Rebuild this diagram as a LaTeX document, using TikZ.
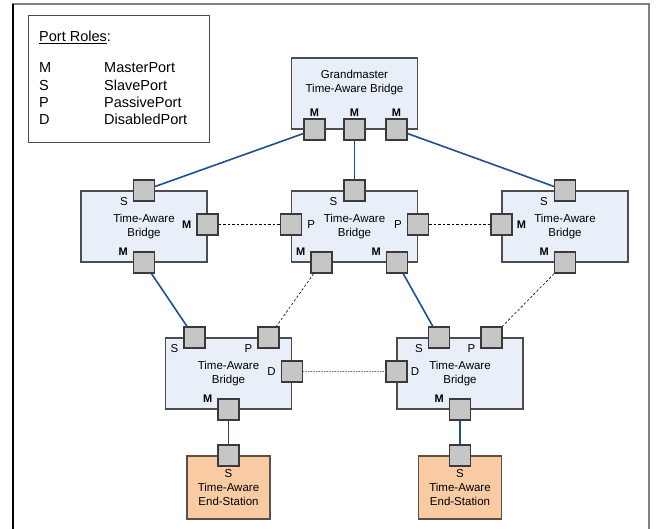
\documentclass[tikz,border=0pt]{standalone}
\usepackage{fontspec}
\setmainfont{Liberation Sans}
\usetikzlibrary{positioning}
\definecolor{BridgeFill}{HTML}{E9EFF8}
\definecolor{BoxGray}{HTML}{4D4D4D}
\definecolor{PortFill}{HTML}{C6C6C6}
\definecolor{PortLine}{HTML}{3A3A3A}
\definecolor{StationFill}{HTML}{F9CBA3}
\definecolor{StationLine}{HTML}{5E5048}
\definecolor{LinkBlue}{HTML}{1F4F8F}
\newcommand{\txtfont}{\fontsize{11.5}{14}\selectfont}
\newcommand{\legfont}{\fontsize{14.5}{17}\selectfont}
\newcommand{\mfont}{\fontsize{11}{13}\selectfont\bfseries}

\begin{document}
\begin{tikzpicture}[x=1pt,y=-1pt,
    bridge/.style={draw=BoxGray, fill=BridgeFill, line width=1.1pt, minimum width=126pt, minimum height=71pt, inner sep=0pt, align=center, font=\txtfont},
    station/.style={draw=StationLine, fill=StationFill, line width=1.1pt, minimum width=83pt, minimum height=63pt, inner sep=0pt, align=center, font=\txtfont},
    port/.style={draw=PortLine, fill=PortFill, line width=1.2pt, minimum size=21pt, inner sep=0pt},
    lbl/.style={font=\txtfont, inner sep=0pt, node distance=5pt},
    mlbl/.style={font=\mfont, inner sep=0pt, node distance=5pt},
    link/.style={draw=LinkBlue, line width=1.6pt},
    passive/.style={draw=black, line width=0.6pt, dash pattern=on 2.5pt off 2pt},
    disabled/.style={draw=gray, line width=0.8pt, dash pattern=on 0.8pt off 0.8pt}]
  \useasboundingbox (0,0) rectangle (661,529);

  % frame and legend
  \draw [gray, line width=1.2pt] (13,529) -- (13,4) -- (649,4) -- (649,529);
  \draw [black, line width=1.2pt] (13,529) -- (13,4);
  \draw [BoxGray, line width=1pt] (28,16) rectangle (209,143);
  \node [font=\legfont, anchor=west, inner sep=0pt] (roles) at (39,37.5) {\underline{Port Roles}:};
  \foreach \r/\n [count=\i] in {M/MasterPort, S/SlavePort, P/PassivePort, D/DisabledPort}{
    \node [font=\legfont, anchor=west, inner sep=0pt] (key\i) at (39,50.5+17.3*\i) {\r};
    \node [font=\legfont, anchor=west, inner sep=0pt] (role\i) at (104,50.5+17.3*\i) {\n};
  }

  % bridges
  \node [bridge] (gm) at (354.5,93.5) {};
  \node [font=\txtfont, align=center, inner sep=0pt] (gmtext) at ([yshift=11pt]gm.center) {Grandmaster\\Time-Aware Bridge};
  \node [bridge] (lb) at (144,226.5) {Time-Aware\\Bridge};
  \node [bridge] (mb) at (354.5,226.5) {Time-Aware\\Bridge};
  \node [bridge] (rb) at (565,226.5) {Time-Aware\\Bridge};
  \node [bridge] (bl) at (228.5,373.5) {Time-Aware\\Bridge};
  \node [bridge] (br) at (460,373.5) {Time-Aware\\Bridge};
  \node [station] (el) at (228.5,487.5) {S\\Time-Aware\\End-Station};
  \node [station] (er) at (460,487.5) {S\\Time-Aware\\End-Station};

  % ports
  \node [port] (gm1) at ([xshift=-40pt]gm.south) {};
  \node [port] (gm2) at (gm.south) {};
  \node [port] (gm3) at ([xshift=42pt]gm.south) {};
  \node [mlbl, above=2pt of gm1] {M};
  \node [mlbl, above=2pt of gm2] {M};
  \node [mlbl, above=2pt of gm3] {M};

  \node [port] (lbS) at (lb.north) {};
  \node [port] (lbM) at ([yshift=2pt]lb.east) {};
  \node [port] (lbB) at (lb.south) {};
  \node [lbl, left=of lbS.south west] {S};
  \node [mlbl, left=of lbM.west] {M};
  \node [mlbl, left=of lbB.north west] {M};

  \node [port] (mbS) at (mb.north) {};
  \node [port] (mbL) at ([yshift=2pt]mb.west) {};
  \node [port] (mbR) at ([yshift=2pt]mb.east) {};
  \node [port] (mbM1) at ([xshift=-33pt]mb.south) {};
  \node [port] (mbM2) at ([xshift=42.5pt]mb.south) {};
  \node [lbl, left=6pt of mbS.south west] {S};
  \node [lbl, right=of mbL.east] {P};
  \node [lbl, left=of mbR.west] {P};
  \node [mlbl, left=of mbM1.north west] {M};
  \node [mlbl, left=of mbM2.north west] {M};

  \node [port] (rbS) at (rb.north) {};
  \node [port] (rbM) at ([yshift=2pt]rb.west) {};
  \node [port] (rbB) at (rb.south) {};
  \node [lbl, left=6pt of rbS.south west] {S};
  \node [mlbl, right=4pt of rbM.east] {M};
  \node [mlbl, left=of rbB.north west] {M};

  \node [port] (blS) at ([xshift=-34pt]bl.north) {};
  \node [port] (blP) at ([xshift=40pt]bl.north) {};
  \node [port] (blD) at ([yshift=2pt]bl.east) {};
  \node [port] (blM) at (bl.south) {};
  \node [lbl, left=of blS.south west] {S};
  \node [lbl, left=of blP.south west] {P};
  \node [lbl, left=of blD.west] {D};
  \node [mlbl, left=of blM.north west] {M};

  \node [port] (brS) at ([xshift=-21pt]br.north) {};
  \node [port] (brP) at ([xshift=31.5pt]br.north) {};
  \node [port] (brD) at ([yshift=2pt]br.west) {};
  \node [port] (brM) at (br.south) {};
  \node [lbl, left=of brS.south west] {S};
  \node [lbl, left=of brP.south west] {P};
  \node [lbl, right=3pt of brD.east] {D};
  \node [mlbl, left=of brM.north west] {M};

  \node [port] (elS) at (el.north) {};
  \node [port] (erS) at (er.north) {};

  % links
  \draw [link] (gm1) -- (lbS);
  \draw [link] (gm2) -- (mbS);
  \draw [link] (gm3) -- (rbS);
  \draw [passive] (lbM) -- (mbL);
  \draw [passive] (mbR) -- (rbM);
  \draw [link] (lbB) -- (blS);
  \draw [passive] (mbM1) -- (blP);
  \draw [link] (mbM2) -- (brS);
  \draw [passive] (rbB) -- (brP);
  \draw [disabled] (blD) -- (brD);
  \draw [link] (blM) -- (elS);
  \draw [link] (brM) -- (erS);
\end{tikzpicture}
\end{document}
